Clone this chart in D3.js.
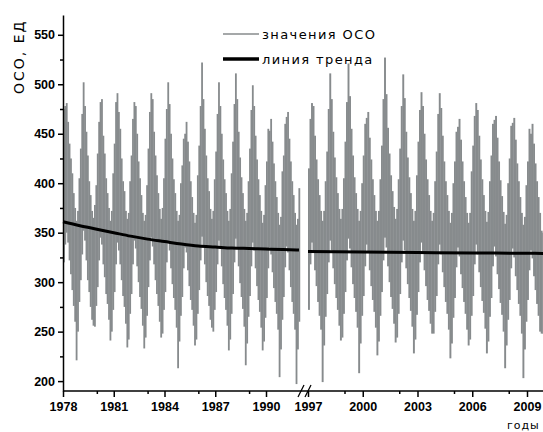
<!DOCTYPE html>
<html>
<head>
<meta charset="utf-8">
<script src="https://cdn.jsdelivr.net/npm/d3@7"></script>
<style>
  body { margin: 0; background: #fff; }
  svg { display: block; }
  .axis text { font-family: "Liberation Sans", Arial, sans-serif; font-weight: bold; font-size: 12.5px; fill: #000; }
  .axis path, .axis line { stroke: #000; stroke-width: 1.5; }
  .lbl { font-family: "DejaVu Sans", sans-serif; fill: #000; }
</style>
</head>
<body>
<svg id="chart" width="543" height="432"></svg>
<script>
// monthly range (min / max of daily values), Jan..Dec
const leftYears = [1978, 1979, 1980, 1981, 1982, 1983, 1984, 1985, 1986, 1987, 1988, 1989, 1990, 1991]
const leftHigh = [
  [475, 478, 481, 462, 440, 425, 410, 390, 375, 362, 372, 405],
  [435, 470, 502, 478, 452, 428, 402, 388, 372, 365, 378, 398],
  [430, 462, 482, 485, 448, 430, 405, 390, 375, 362, 372, 410],
  [440, 482, 491, 472, 455, 425, 402, 392, 372, 364, 370, 402],
  [428, 465, 482, 478, 450, 422, 405, 388, 370, 362, 368, 398],
  [435, 472, 491, 485, 452, 428, 408, 390, 374, 364, 375, 405],
  [445, 475, 502, 480, 450, 425, 404, 390, 372, 362, 368, 400],
  [418, 445, 450, 462, 442, 422, 402, 386, 370, 360, 368, 408],
  [438, 478, 522, 485, 455, 428, 405, 392, 374, 364, 372, 404],
  [432, 470, 502, 478, 450, 424, 404, 390, 372, 362, 374, 410],
  [442, 480, 511, 485, 452, 426, 406, 390, 374, 362, 370, 402],
  [435, 474, 499, 478, 448, 424, 404, 388, 372, 360, 368, 398],
  [422, 455, 453, 465, 442, 420, 402, 386, 370, 358, 366, 412],
  [428, 460, 467, 472, 445, 422, 402, 388, 370, 358, 364, 395]
]
const leftLow = [
  [320, 338, 350, 340, 322, 308, 292, 276, 260, 221, 250, 280],
  [302, 328, 352, 342, 322, 302, 290, 275, 262, 256, 255, 276],
  [295, 322, 345, 338, 318, 305, 288, 278, 262, 241, 250, 272],
  [290, 318, 340, 332, 318, 302, 286, 275, 258, 234, 242, 268],
  [288, 318, 342, 334, 316, 300, 285, 273, 256, 233, 244, 266],
  [295, 322, 345, 336, 318, 302, 288, 276, 260, 244, 248, 272],
  [290, 320, 340, 332, 314, 298, 284, 272, 254, 213, 240, 266],
  [285, 314, 335, 330, 312, 296, 282, 272, 256, 236, 242, 268],
  [292, 322, 346, 336, 318, 300, 286, 276, 262, 254, 250, 272],
  [290, 318, 342, 334, 316, 298, 284, 272, 256, 231, 242, 268],
  [288, 320, 344, 335, 316, 299, 285, 273, 255, 216, 238, 265],
  [286, 316, 340, 332, 314, 296, 282, 270, 254, 231, 240, 264],
  [284, 314, 335, 328, 310, 294, 280, 268, 252, 204, 232, 262],
  [285, 315, 336, 330, 312, 295, 280, 268, 252, 197, 232, 260]
]

const rightYears = [1997, 1998, 1999, 2000, 2001, 2002, 2003, 2004, 2005, 2006, 2007, 2008, 2009]
const rightHigh = [
  [415, 465, 481, 478, 448, 424, 404, 388, 372, 362, 372, 402],
  [432, 475, 511, 485, 452, 426, 406, 390, 374, 364, 374, 405],
  [442, 482, 521, 488, 455, 428, 406, 390, 374, 362, 372, 400],
  [428, 460, 466, 472, 446, 424, 404, 388, 372, 362, 372, 404],
  [438, 485, 527, 490, 456, 430, 408, 392, 376, 364, 374, 404],
  [435, 478, 510, 486, 452, 426, 406, 390, 374, 362, 372, 408],
  [442, 474, 492, 478, 450, 424, 404, 388, 372, 362, 370, 402],
  [432, 470, 491, 476, 448, 422, 402, 388, 372, 360, 370, 400],
  [422, 452, 457, 465, 444, 422, 402, 386, 370, 360, 370, 412],
  [438, 468, 481, 474, 448, 424, 404, 388, 372, 361, 371, 402],
  [428, 460, 464, 468, 446, 422, 403, 387, 371, 359, 368, 400],
  [425, 458, 461, 466, 444, 420, 402, 386, 370, 358, 366, 398],
  [422, 455, 450, 460, 440, 420, 402, 386, 370, 352, 350]
]
const rightLow = [
  [272, 318, 340, 330, 312, 296, 280, 266, 252, 199, 236, 265],
  [288, 320, 342, 332, 314, 298, 284, 272, 256, 241, 244, 268],
  [290, 322, 344, 334, 315, 298, 284, 270, 254, 208, 238, 266],
  [286, 316, 338, 330, 312, 296, 282, 270, 254, 226, 240, 266],
  [290, 322, 345, 335, 316, 300, 285, 273, 258, 239, 244, 268],
  [288, 320, 342, 332, 314, 298, 284, 271, 255, 228, 242, 267],
  [290, 320, 340, 330, 312, 296, 282, 271, 258, 248, 248, 270],
  [286, 318, 338, 328, 310, 295, 280, 268, 252, 223, 238, 264],
  [284, 315, 335, 326, 308, 294, 280, 268, 252, 236, 242, 266],
  [286, 318, 338, 328, 310, 295, 281, 269, 253, 228, 240, 265],
  [284, 316, 336, 326, 308, 293, 279, 267, 250, 213, 236, 262],
  [282, 314, 334, 325, 306, 292, 278, 266, 248, 203, 232, 260],
  [282, 312, 332, 324, 306, 292, 278, 266, 250, 248, 248]
]

const trendLeftYears = [1978, 1979, 1980, 1981, 1982, 1983, 1984, 1985, 1986, 1987, 1988, 1989, 1990, 1991, 1991.95]
const trendLeftValues = [361, 357, 353.5, 350, 346.5, 343.5, 341, 338.5, 336.5, 335.5, 334.5, 334, 333.5, 333, 332.5]
const trendRightYears = [1997, 2000, 2003, 2006, 2009, 2009.92]
const trendRightValues = [331, 330.5, 330, 329.5, 329.2, 329]

const leftTicks = [1978, 1981, 1984, 1987, 1990]
const leftMinor = [1980, 1983, 1986, 1989]
const rightTicks = [1997, 2000, 2003, 2006, 2009]
const rightMinor = [1999, 2002, 2005, 2008]
const yTicks = [200, 250, 300, 350, 400, 450, 500, 550]
const yMinor = [225, 275, 325, 375, 425, 475, 525]

const grey = '#878b8d'
const svg = d3.select('#chart')

const y = d3.scaleLinear().domain([190, 570]).range([391, 15])
const xL = d3.scaleLinear().domain([1978, 1990]).range([63, 266])
const xR = d3.scaleLinear().domain([1997, 2009]).range([308, 527])

function months(years, high, low) {
  const out = []
  years.forEach((yr, i) => {
    high[i].forEach((h, m) => out.push({ t: yr + m / 12, hi: h, lo: low[i][m] }))
  })
  return out
}

function drawBand(x, data) {
  svg.append('g').selectAll('rect').data(data).enter().append('rect')
    .attr('x', d => x(d.t))
    .attr('width', d => x(d.t + 1 / 12) - x(d.t) + 0.4)
    .attr('y', d => y(d.hi))
    .attr('height', d => y(d.lo) - y(d.hi))
    .attr('fill', grey)
}

drawBand(xL, months(leftYears, leftHigh, leftLow))
drawBand(xR, months(rightYears, rightHigh, rightLow))

// trend
const lineL = d3.line().curve(d3.curveMonotoneX).x((d, i) => xL(trendLeftYears[i])).y(d => y(d))
const lineR = d3.line().curve(d3.curveMonotoneX).x((d, i) => xR(trendRightYears[i])).y(d => y(d))
svg.append('path').attr('d', lineL(trendLeftValues)).attr('fill', 'none').attr('stroke', '#000').attr('stroke-width', 3)
svg.append('path').attr('d', lineR(trendRightValues)).attr('fill', 'none').attr('stroke', '#000').attr('stroke-width', 3)

// y axis
svg.append('g').attr('class', 'axis').attr('transform', 'translate(63,0)')
  .call(d3.axisLeft(y).tickValues(yTicks).tickSize(5).tickSizeOuter(0).tickPadding(3))
svg.append('g').attr('class', 'axis').attr('transform', 'translate(63,0)')
  .call(d3.axisLeft(y).tickValues(yMinor).tickSize(3).tickSizeOuter(0).tickFormat(''))
  .select('.domain').remove()

// x axis
svg.append('line').attr('x1', 63).attr('x2', 543).attr('y1', 391).attr('y2', 391)
  .attr('stroke', '#000').attr('stroke-width', 1.5)
const fmt = d3.format('d')
function xAxis(x, major, minor) {
  svg.append('g').attr('class', 'axis').attr('transform', 'translate(0,391)')
    .call(d3.axisBottom(x).tickValues(major).tickSize(6).tickPadding(5).tickFormat(fmt))
    .select('.domain').remove()
  svg.append('g').attr('class', 'axis').attr('transform', 'translate(0,391)')
    .call(d3.axisBottom(x).tickValues(minor).tickSize(3).tickFormat(''))
    .select('.domain').remove()
}
xAxis(xL, leftTicks, leftMinor)
xAxis(xR, rightTicks, rightMinor)

// break marks
;[301, 308].forEach(bx => {
  svg.append('line').attr('x1', bx - 3).attr('x2', bx + 3).attr('y1', 397).attr('y2', 385)
    .attr('stroke', '#000').attr('stroke-width', 1.3)
})

// titles
svg.append('text').attr('class', 'lbl')
  .attr('transform', 'translate(24,94) rotate(-90)')
  .attr('font-size', 14).attr('letter-spacing', 2)
  .text('ОСО, ЕД')
svg.append('text').attr('class', 'lbl')
  .attr('x', 507).attr('y', 429).attr('font-size', 11).attr('letter-spacing', 1)
  .text('годы')

// legend
const legend = [
  { name: 'значения ОСО', color: grey, width: 1.5, y: 34 },
  { name: 'линия тренда', color: '#000', width: 3.5, y: 59 }
]
legend.forEach(l => {
  svg.append('line').attr('x1', 223).attr('x2', 259).attr('y1', l.y).attr('y2', l.y)
    .attr('stroke', l.color).attr('stroke-width', l.width)
  svg.append('text').attr('class', 'lbl')
    .attr('x', 262).attr('y', l.y + 4.5).attr('font-size', 13).attr('letter-spacing', 1.4)
    .text(l.name)
})
</script>
</body>
</html>
